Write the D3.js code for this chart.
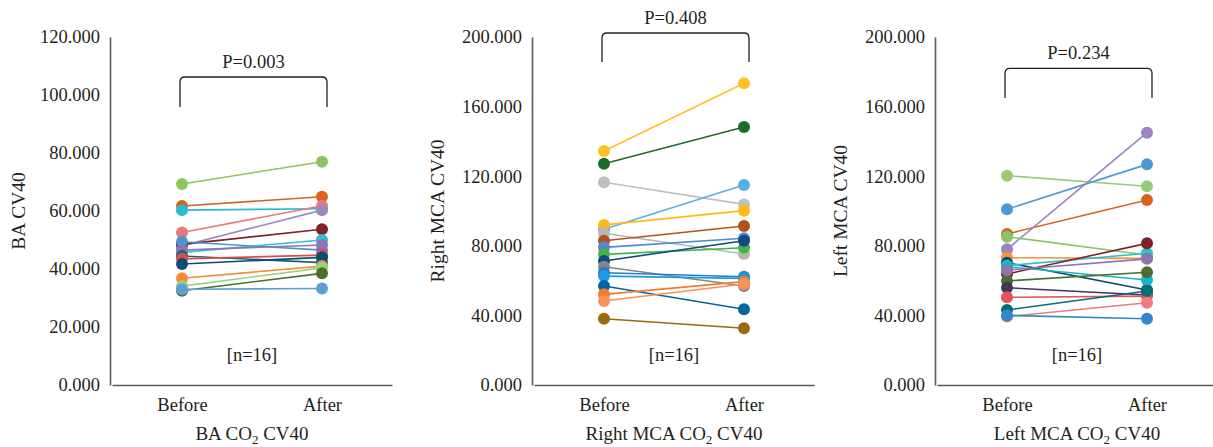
<!DOCTYPE html>
<html>
<head>
<meta charset="utf-8">
<script src="https://cdn.jsdelivr.net/npm/d3@7"></script>
<style>
  body { margin: 0; background: #fff; }
  svg text { font-family: "Liberation Serif", "DejaVu Serif", serif; fill: #231f20; }
</style>
</head>
<body>
<script>
// BA panel
var baBefore = [69.3, 61.7, 60.3, 52.6, 48.0, 48.5, 49.4, 45.7, 46.5, 44.5, 43.5, 41.7, 36.8, 34.1, 32.5, 33.0];
var baAfter  = [77.0, 64.9, 60.8, 61.8, 60.3, 53.7, 46.5, 50.0, 48.3, 42.2, 44.8, 44.0, 41.0, 40.4, 38.5, 33.3];
var baColors = ["#8dc363", "#d9621e", "#27bccf", "#e8787a", "#9d86c0", "#7e2229", "#4b93cb", "#2ec1cf",
                "#8e73b5", "#0e6875", "#e04a4a", "#0b4d73", "#f58a3c", "#9dd07a", "#4a6e2c", "#5ba0d3"];

// Right MCA panel
var rBefore = [134.5, 127.2, 116.5, 89.5, 92.0, 87.2, 82.9, 79.1, 75.1, 71.3, 68.0, 64.5, 62.6, 56.9, 52.1, 48.3, 38.1];
var rAfter  = [173.4, 148.3, 103.8, 114.9, 100.2, 75.3, 91.4, 84.3, 78.9, 82.9, 56.9, 62.2, 61.3, 43.5, 59.4, 58.0, 32.6];
var rColors = ["#ffc125", "#1e6b2e", "#bfbfbf", "#56b0e3", "#ffb71b", "#b7b7b7", "#b5501c", "#4f8ccf",
               "#3fb54a", "#124a80", "#858585", "#2b7bc9", "#1e9ae0", "#00679e", "#f47a30", "#f7925a", "#9b6a0e"];

// Left MCA panel
var lBefore = [120.3, 101.0, 86.8, 78.0, 85.2, 73.2, 70.3, 68.6, 68.0, 63.8, 59.8, 55.9, 50.4, 43.1, 39.3, 40.0, 66.0];
var lAfter  = [114.2, 126.8, 106.3, 145.0, 74.7, 72.8, 54.6, 75.7, 60.3, 81.4, 64.8, 51.7, 51.1, 54.0, 47.3, 38.1, 72.5];
var lColors = ["#97cc76", "#4e99cf", "#d9621e", "#9b84bf", "#89c466", "#f5923e", "#0d4a6e", "#2ec1cf",
               "#14b7c9", "#7e2229", "#4a6e2c", "#45335f", "#e25456", "#066c78", "#ec7c7d", "#3487c8", "#8e73b5"];

var groups = ["Before", "After"];

var panels = [
  { left: 110, yMax: 120, ticks: [0, 20, 40, 60, 80, 100, 120], yLabel: "BA CV40", xTitle: ["BA CO", "2", " CV40"],
    p: "P=0.003", bracket: [106.2, 95.9], before: baBefore, after: baAfter, colors: baColors },
  { left: 532, yMax: 200, ticks: [0, 40, 80, 120, 160, 200], yLabel: "Right MCA CV40", xTitle: ["Right MCA CO", "2", " CV40"],
    p: "P=0.408", bracket: [202.3, 185.6], before: rBefore, after: rAfter, colors: rColors },
  { left: 935, yMax: 200, ticks: [0, 40, 80, 120, 160, 200], yLabel: "Left MCA CV40", xTitle: ["Left MCA CO", "2", " CV40"],
    p: "P=0.234", bracket: [182, 165], before: lBefore, after: lAfter, colors: lColors }
];

var W = 1213, H = 447,
    plotTop = 37, plotBottom = 385, plotW = 282;

var svg = d3.select("body").append("svg")
    .attr("width", W)
    .attr("height", H);

var fmt = d3.format(".3f");

panels.forEach(function(pn) {
  var g = svg.append("g").attr("transform", "translate(" + pn.left + ",0)");

  var x = d3.scalePoint().domain(groups).range([2, plotW]).padding(0.5);
  var y = d3.scaleLinear().domain([0, pn.yMax]).range([plotBottom, plotTop]);

  // y axis
  var yAxis = g.append("g")
      .call(d3.axisLeft(y).tickValues(pn.ticks).tickFormat(fmt).tickSize(0).tickPadding(10));
  yAxis.select(".domain").attr("stroke", "#595959").attr("stroke-width", 1.6);
  yAxis.selectAll("text").attr("font-size", 18.5).style("font-family", "Liberation Serif").attr("fill", "#231f20");

  // x axis
  var xAxis = g.append("g")
      .attr("transform", "translate(0," + plotBottom + ")")
      .call(d3.axisBottom(x).tickSize(0).tickPadding(13));
  xAxis.select(".domain").attr("stroke", "#595959").attr("stroke-width", 1.6);
  xAxis.selectAll("text").attr("font-size", 18.5).style("font-family", "Liberation Serif").attr("fill", "#231f20");

  // y label
  g.append("text")
      .attr("transform", "translate(" + (pn.left === 110 ? -92 : -95) + "," + ((plotTop + plotBottom) / 2) + ") rotate(-90)")
      .attr("text-anchor", "middle")
      .attr("dy", "0.35em")
      .attr("font-size", 19.5)
      .text(pn.yLabel);

  // x title with subscript
  var t = g.append("text")
      .attr("x", plotW / 2 + 1)
      .attr("y", 440)
      .attr("text-anchor", "middle")
      .attr("font-size", 19);
  t.append("tspan").text(pn.xTitle[0]);
  t.append("tspan").attr("font-size", 13).attr("dy", 4).text(pn.xTitle[1]);
  t.append("tspan").attr("dy", -4).text(pn.xTitle[2]);

  // paired data
  var pairs = pn.before.map(function(b, i) {
    return { b: b, a: pn.after[i], c: pn.colors[i] };
  });

  g.selectAll(".pair")
    .data(pairs)
    .enter().append("line")
      .attr("x1", x("Before"))
      .attr("x2", x("After"))
      .attr("y1", function(d) { return y(d.b); })
      .attr("y2", function(d) { return y(d.a); })
      .attr("stroke", function(d) { return d.c; })
      .attr("stroke-width", 1.6);

  g.selectAll(".dotB")
    .data(pairs)
    .enter().append("circle")
      .attr("cx", x("Before"))
      .attr("cy", function(d) { return y(d.b); })
      .attr("r", 6)
      .attr("fill", function(d) { return d.c; });

  g.selectAll(".dotA")
    .data(pairs)
    .enter().append("circle")
      .attr("cx", x("After"))
      .attr("cy", function(d) { return y(d.a); })
      .attr("r", 6)
      .attr("fill", function(d) { return d.c; });

  // bracket
  var bx1 = x("Before") - 2, bx2 = x("After") + 5,
      byT = y(pn.bracket[0]), byB = y(pn.bracket[1]), r = 5;
  var p = d3.path();
  p.moveTo(bx1, byB);
  p.lineTo(bx1, byT + r);
  p.quadraticCurveTo(bx1, byT, bx1 + r, byT);
  p.lineTo(bx2 - r, byT);
  p.quadraticCurveTo(bx2, byT, bx2, byT + r);
  p.lineTo(bx2, byB);
  g.append("path")
      .attr("d", p.toString())
      .attr("fill", "none")
      .attr("stroke", "#231f20")
      .attr("stroke-width", 1.3);

  g.append("text")
      .attr("x", (bx1 + bx2) / 2)
      .attr("y", byT - 9)
      .attr("text-anchor", "middle")
      .attr("font-size", 18.5)
      .text(pn.p);

  g.append("text")
      .attr("x", plotW / 2 + 1)
      .attr("y", plotBottom - 24)
      .attr("text-anchor", "middle")
      .attr("font-size", 18.5)
      .text("[n=16]");
});
</script>
</body>
</html>
